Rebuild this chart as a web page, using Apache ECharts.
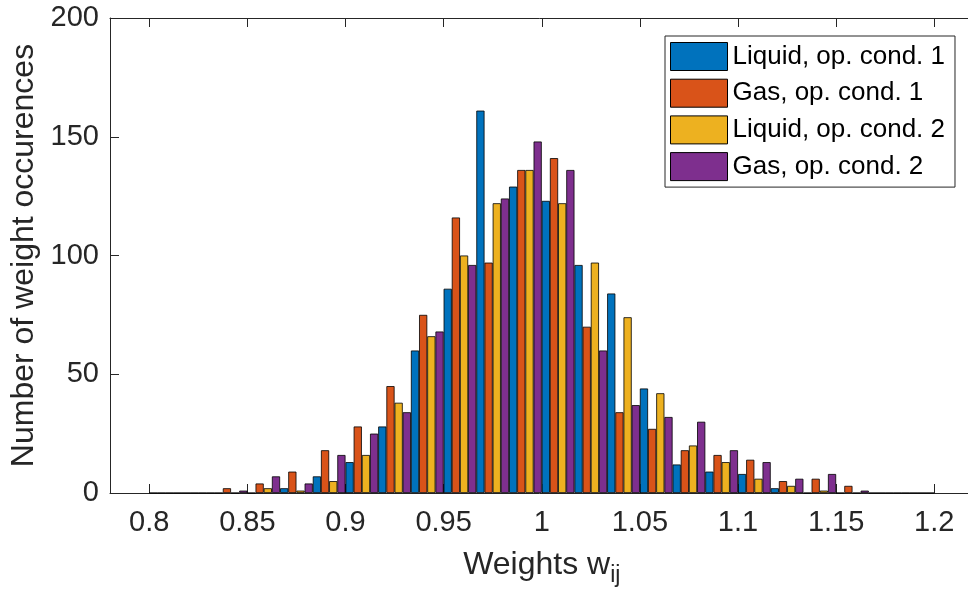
<!DOCTYPE html>
<html>
<head>
<meta charset="utf-8">
<script src="https://cdn.jsdelivr.net/npm/echarts@6/dist/echarts.min.js"></script>
<style>
html,body{margin:0;padding:0;background:#fff;}
#chart{width:968px;height:595px;}
</style>
</head>
<body>
<div id="chart"></div>
<script>
// Histogram bin centres (24 bins from 0.8 to 1.2)
const binCenters = [0.808333, 0.825, 0.841667, 0.858333, 0.875, 0.891667, 0.908333, 0.925,
  0.941667, 0.958333, 0.975, 0.991667, 1.008333, 1.025, 1.041667, 1.058333,
  1.075, 1.091667, 1.108333, 1.125, 1.141667, 1.158333, 1.175, 1.191667];

const seriesNames = ['Liquid, op. cond. 1', 'Gas, op. cond. 1', 'Liquid, op. cond. 2', 'Gas, op. cond. 2'];
const liquid1 = [0, 0, 0, 0, 2, 7, 13, 28, 60, 86, 161, 129, 123, 96, 84, 44, 12, 9, 8, 2, 0, 0, 0, 0];
const gas1    = [0, 0, 2, 4, 9, 18, 28, 45, 75, 116, 97, 136, 141, 70, 34, 27, 18, 16, 14, 5, 6, 3, 0, 0];
const liquid2 = [0, 0, 0, 2, 1, 5, 16, 38, 66, 100, 122, 136, 122, 97, 74, 42, 20, 13, 6, 3, 1, 0, 0, 0];
const gas2    = [0, 0, 1, 7, 4, 16, 25, 34, 68, 96, 124, 148, 136, 60, 37, 32, 30, 18, 13, 6, 8, 1, 0, 0];

const xTicks = [0.8, 0.85, 0.9, 0.95, 1, 1.05, 1.1, 1.15, 1.2];
const yTicks = [0, 50, 100, 150, 200];

const colors = ['#0072BD', '#D95319', '#EDB120', '#7E2F8E'];
const FONT = '"Liberation Sans", Arial, Helvetica, sans-serif';
const AX = '#262626';

const allValues = [liquid1, gas1, liquid2, gas2];

const chart = echarts.init(document.getElementById('chart'), null, {renderer: 'canvas'});

const series = allValues.map((vals, k) => ({
  name: seriesNames[k],
  type: 'bar',
  xAxisIndex: 0,
  yAxisIndex: 0,
  barWidth: '25%',
  barGap: '0%',
  itemStyle: {color: colors[k], borderColor: '#000', borderWidth: 0.8},
  emphasis: {disabled: true},
  animation: false,
  data: binCenters.map((c, i) => [c, vals[i]])
}));

const option = {
  animation: false,
  backgroundColor: '#fff',
  textStyle: {fontFamily: FONT},
  grid: {left: 110, top: 18, width: 863.5, height: 475, containLabel: false, outerBoundsMode: 'none'},
  legend: {
    orient: 'vertical',
    left: 665,
    top: 36,
    padding: [6, 10, 6, 5],
    itemWidth: 57,
    itemHeight: 28,
    itemGap: 7.7,
    backgroundColor: '#fff',
    borderColor: AX,
    borderWidth: 1,
    icon: 'rect',
    itemStyle: {borderColor: '#000', borderWidth: 1},
    textStyle: {fontSize: 26, color: '#000', fontFamily: FONT},
    data: seriesNames,
    selectedMode: false
  },
  xAxis: [
    {
      type: 'value',
      position: 'bottom',
      min: 0.78,
      max: 1.22,
      axisLine: {show: true, lineStyle: {color: AX, width: 1}},
      axisTick: {show: true, inside: true, length: 9, lineStyle: {color: AX}, customValues: xTicks},
      axisLabel: {show: true, customValues: xTicks, fontSize: 29, color: AX, margin: 15, fontFamily: FONT},
      splitLine: {show: false},
      name: '{a|Weights w}{sub|ij}',
      nameLocation: 'middle',
      nameGap: 50,
      nameTextStyle: {
        color: AX,
        fontFamily: FONT,
        rich: {
          a: {fontSize: 32, lineHeight: 44, color: AX, fontFamily: FONT, verticalAlign: 'middle'},
          sub: {fontSize: 23, lineHeight: 44, color: AX, fontFamily: FONT, verticalAlign: 'bottom'}
        }
      }
    },
    {
      type: 'value',
      position: 'top',
      min: 0.78,
      max: 1.22,
      axisLine: {show: true, lineStyle: {color: AX, width: 1}},
      axisTick: {show: true, inside: true, length: 9, lineStyle: {color: AX}, customValues: xTicks},
      axisLabel: {show: false},
      splitLine: {show: false}
    }
  ],
  yAxis: [
    {
      type: 'value',
      min: 0,
      max: 200,
      interval: 50,
      axisLine: {show: true, lineStyle: {color: AX, width: 1}},
      axisTick: {show: true, inside: true, length: 9, lineStyle: {color: AX}, customValues: yTicks},
      axisLabel: {fontSize: 29, color: AX, margin: 11, fontFamily: FONT, customValues: yTicks},
      splitLine: {show: false},
      name: 'Number of weight occurences',
      nameLocation: 'middle',
      nameGap: 57,
      nameTextStyle: {fontSize: 32, color: AX, fontFamily: FONT}
    }
  ],
  series: series
};

chart.setOption(option);
</script>
</body>
</html>
